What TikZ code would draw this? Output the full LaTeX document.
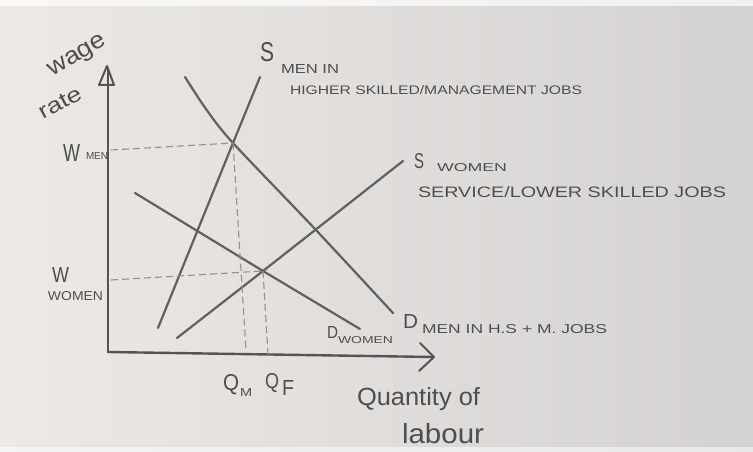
\documentclass[tikz,border=0pt]{standalone}
\usepackage{fontspec}
\setmainfont{Liberation Sans}
\usepackage{graphicx}
\definecolor{ink}{RGB}{96,96,96}
\definecolor{axisc}{RGB}{84,84,84}
\definecolor{guidec}{RGB}{145,145,145}
\definecolor{txt}{RGB}{78,78,78}
\definecolor{bgL}{RGB}{236,233,230}
\definecolor{bgR}{RGB}{212,210,209}
\begin{document}
\begin{tikzpicture}[x=1pt,y=-1pt,
  curve/.style={draw=ink, line width=2.2pt, line cap=round, line join=round},
  axisline/.style={draw=axisc, line width=2.4pt, line cap=round, line join=round},
  guide/.style={draw=guidec, line width=1.1pt, dash pattern=on 7pt off 4pt},
  lab/.style={inner sep=0pt, outer sep=0pt, text=txt, anchor=base west},
]
\useasboundingbox (0,0) rectangle (753,452);
\shade[left color=bgL, right color=bgR] (0,0) rectangle (753,452);
\fill[white, opacity=0.7] (0,0) rectangle (753,6);
\fill[white, opacity=0.5] (0,447) rectangle (753,452);

% axes
\coordinate (O) at (108,352);
\coordinate (ytop) at (108,70);
\coordinate (xend) at (433,357);
\draw[axisline] (O) -- (ytop);
\draw[axisline, line width=2pt] (99,85) -- (107,66) -- (114,85) -- cycle;
\draw[axisline] (O) -- (xend);
\draw[axisline, line width=2pt] (420,343) -- (434,357) -- (419,371);

% key points
\coordinate (EM) at (233,143);
\coordinate (EF) at (263,271);

% supply of men
\coordinate (smA) at (158,328);
\coordinate (smB) at (260,77);
\draw[curve] (smA) -- (EM) -- (smB);

% demand for men
\coordinate (dmA) at (185,77);
\coordinate (dmM) at (206,109);
\coordinate (dmX) at (315,229);
\coordinate (dmB) at (393,313);
\draw[curve] plot[smooth, tension=0.5] coordinates {(dmA) (dmM) (EM) (dmX) (dmB)};

% supply of women
\coordinate (swA) at (177,338);
\coordinate (swB) at (403,161);
\draw[curve] (swA) -- (EF) -- (swB);

% demand for women
\coordinate (dwA) at (135,193);
\coordinate (dwB) at (360,329);
\draw[curve] (dwA) -- (EF) -- (dwB);

% guides
\coordinate (wm) at (111,150);
\coordinate (wf) at (111,280);
\coordinate (qm) at (246,350);
\coordinate (qf) at (268,354);
\draw[guide] (wm) -- (EM);
\draw[guide] (EM) -- (qm);
\draw[guide] (wf) -- (EF);
\draw[guide] (EF) -- (qf);

% labels
\node[lab, anchor=center, rotate=30] (wage) at (78,57) {\resizebox{64pt}{13pt}{wage}};
\node[lab, anchor=center, rotate=28] (rate) at (60,103) {\resizebox{46pt}{14pt}{rate}};

\node[lab] (Wm) at (63,161) {\resizebox{17pt}{17pt}{W}};
\node[lab] (Wmsub) at (86,160) {\resizebox{22pt}{7pt}{MEN}};
\node[lab] (Wf) at (52,282) {\resizebox{17pt}{15pt}{W}};
\node[lab] (Wfsub) at (48,300) {\resizebox{55pt}{9pt}{WOMEN}};

\node[lab] (Sm) at (260,62) {\resizebox{14pt}{19pt}{S}};
\node[lab] (Smsub) at (281,74) {\resizebox{58pt}{9pt}{MEN IN}};
\node[lab] (Smtxt) at (290,95) {\resizebox{292pt}{9pt}{HIGHER SKILLED/MANAGEMENT JOBS}};

\node[lab] (Sf) at (414,168) {\resizebox{10pt}{15pt}{S}};
\node[lab] (Sfsub) at (437,171) {\resizebox{70pt}{8pt}{WOMEN}};
\node[lab] (Sftxt) at (418,197) {\resizebox{308pt}{11pt}{SERVICE/LOWER SKILLED JOBS}};

\node[lab] (Dm) at (403,328) {\resizebox{15pt}{14pt}{D}};
\node[lab] (Dmtxt) at (422,333) {\resizebox{185pt}{9pt}{MEN IN H.S + M. JOBS}};

\node[lab] (Df) at (327,338) {\resizebox{11pt}{12pt}{D}};
\node[lab] (Dfsub) at (338,343) {\resizebox{55pt}{7pt}{WOMEN}};

\node[lab] (Qm) at (223,390) {\resizebox{16pt}{16pt}{Q}};
\node[lab] (Qmsub) at (240,396) {\resizebox{12pt}{8pt}{M}};
\node[lab] (Qf) at (265,388) {\resizebox{14pt}{15pt}{Q}};
\node[lab] (Qfsub) at (282,395) {\resizebox{12pt}{15pt}{F}};

\node[lab] (qty) at (357,405) {\resizebox{123pt}{18pt}{Quantity of}};
\node[lab] (lab) at (402,443) {\resizebox{82pt}{20pt}{labour}};
\end{tikzpicture}
\end{document}
